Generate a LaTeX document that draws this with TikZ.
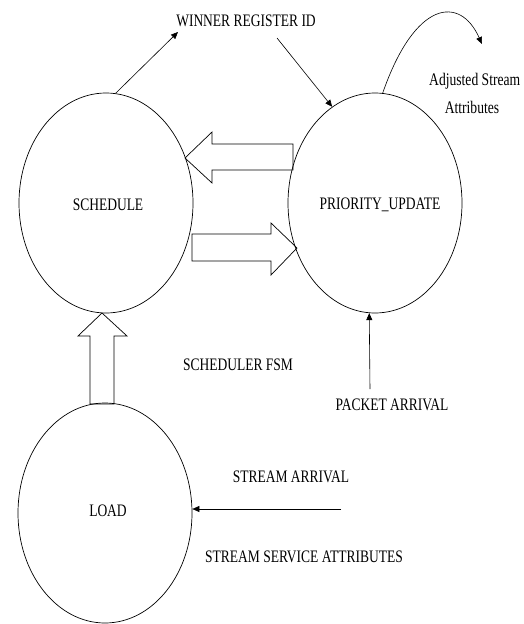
\documentclass[tikz,border=0pt]{standalone}
\usepackage{fontspec}
\usepackage{graphicx}
\setmainfont{Liberation Serif}
\usetikzlibrary{shapes.geometric,arrows.meta}

\newcommand{\tall}[1]{\scalebox{1}[1.3]{#1}}

\tikzset{
    state/.style={draw, ellipse, line width=0.7pt, minimum width=174pt, minimum height=220pt, inner sep=0pt},
    lbl/.style={font=\fontsize{13.5}{16}\selectfont, inner sep=0pt},
    note/.style={font=\fontsize{13.6}{16}\selectfont, inner sep=0pt},
    flow/.style={line width=0.6pt, -{Triangle[length=7pt,width=6pt]}},
    block/.style={line width=0.7pt, line join=miter}
}

\begin{document}
\begin{tikzpicture}[x=1pt, y=-1pt]
    \useasboundingbox (0,0) rectangle (523,624);

    % States
    \node[state] (sched) at (106,203) {};
    \node[state] (prio) at (375,203) {};
    \node[state] (load) at (105,513) {};
    \node[lbl] at (108,205) {\tall{SCHEDULE}};
    \node[lbl] at (380,205) {\tall{PRIORITY\_UPDATE}};
    \node[lbl] at (108,511) {\tall{LOAD}};

    % Labels
    \node[lbl] (winner) at (246,21) {\tall{WINNER REGISTER ID}};
    \node[note, anchor=west] (adjusted) at (429,81) {\tall{Adjusted Stream}};
    \node[note] (attrs) at (472,107) {\tall{Attributes}};
    \node[lbl] (fsm) at (238,365) {\tall{SCHEDULER FSM}};
    \node[lbl] (packet) at (392,405) {\tall{PACKET ARRIVAL}};
    \node[lbl] (streamarr) at (291,477) {\tall{STREAM ARRIVAL}};
    \node[lbl] (service) at (304,557) {\tall{STREAM SERVICE ATTRIBUTES}};

    % Free ends
    \coordinate (w1) at (178,32);
    \coordinate (w2) at (277,38);
    \coordinate (adj) at (482,44);
    \coordinate (pk) at (370,389);
    \coordinate (sa) at (341,509);

    % Thin arrows
    \draw[flow] (sched.85) -- (w1);
    \draw[flow] (w2) -- (prio.114);
    \draw[flow] (prio.86) .. controls (415,0) and (460,-5) .. (adj);
    \draw[flow] (pk) -- (prio.267);
    \draw[flow] (sa) -- (sa -| load.east);

    % Block arrows
    \draw[block] (293,144) -- (212,144) -- (212,132) -- (185,158) -- (212,183) -- (212,170) -- (293,170) -- cycle;
    \draw[block] (192,234) -- (271,234) -- (271,223) -- (297,248) -- (271,275) -- (271,261) -- (192,261) -- cycle;
    \draw[block] (90,404) -- (90,336) -- (78,336) -- (102,313) -- (127,336) -- (114,336) -- (114,404) -- cycle;
\end{tikzpicture}
\end{document}
